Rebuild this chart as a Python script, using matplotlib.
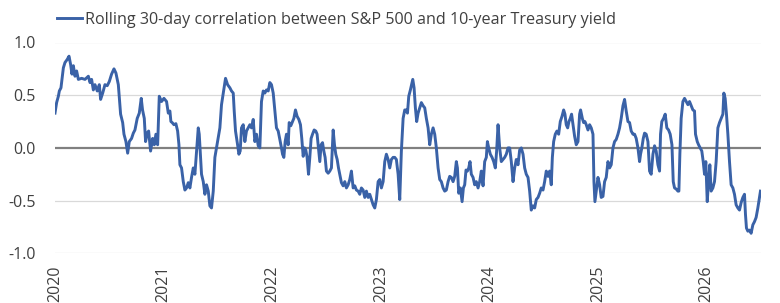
import numpy as np
import matplotlib
matplotlib.use("Agg")
import matplotlib.pyplot as plt

# ---- data: fractional year and rolling correlation ----
years_2020 = [
    2020.000, 2020.015, 2020.031, 2020.040, 2020.055, 2020.077, 2020.092, 2020.113, 2020.129, 2020.144,
    2020.156, 2020.169, 2020.184, 2020.199, 2020.215, 2020.245, 2020.276, 2020.307, 2020.322, 2020.337,
    2020.353, 2020.368, 2020.389, 2020.408, 2020.420, 2020.439, 2020.460, 2020.481, 2020.500, 2020.521,
    2020.543, 2020.561, 2020.583, 2020.604, 2020.623, 2020.635, 2020.653, 2020.669, 2020.684, 2020.705,
    2020.721, 2020.736, 2020.757, 2020.776, 2020.794, 2020.806, 2020.822, 2020.834, 2020.849, 2020.862,
    2020.880, 2020.899, 2020.914, 2020.929, 2020.945, 2020.960, 2020.981, 2021.003,
]
corr_2020 = [
    0.33, 0.43, 0.49, 0.54, 0.57, 0.76, 0.81, 0.84, 0.87, 0.79,
    0.70, 0.78, 0.68, 0.73, 0.65, 0.66, 0.65, 0.68, 0.62, 0.65,
    0.55, 0.60, 0.54, 0.60, 0.46, 0.52, 0.60, 0.59, 0.63, 0.70,
    0.75, 0.71, 0.60, 0.32, 0.24, 0.13, 0.06, -0.05, 0.06, 0.09,
    0.14, 0.17, 0.28, 0.33, 0.47, 0.36, 0.28, 0.06, 0.14, 0.16,
    -0.03, 0.09, 0.03, 0.13, 0.03, 0.49, 0.44, 0.47,
]

years_2021 = [
    2021.027, 2021.043, 2021.058, 2021.067, 2021.079, 2021.095, 2021.113, 2021.129, 2021.141, 2021.150,
    2021.165, 2021.181, 2021.196, 2021.211, 2021.227, 2021.242, 2021.257, 2021.273, 2021.288, 2021.303,
    2021.319, 2021.328, 2021.337, 2021.349, 2021.365, 2021.380, 2021.395, 2021.411, 2021.426, 2021.441,
    2021.457, 2021.472, 2021.487, 2021.503, 2021.518, 2021.533, 2021.549, 2021.564, 2021.570, 2021.589,
    2021.610, 2021.625, 2021.641, 2021.650, 2021.662, 2021.681, 2021.693, 2021.705, 2021.717, 2021.733,
    2021.748, 2021.763, 2021.779, 2021.794, 2021.809, 2021.825, 2021.840, 2021.855, 2021.871, 2021.886,
    2021.901, 2021.917, 2021.932, 2021.947, 2021.963, 2021.978, 2021.993, 2022.009, 2022.024, 2022.039,
    2022.055,
]
corr_2021 = [
    0.44, 0.33, 0.35, 0.25, 0.24, 0.22, 0.23, 0.16, 0.03, -0.16,
    -0.19, -0.32, -0.40, -0.38, -0.33, -0.38, -0.28, -0.19, -0.25, -0.03,
    0.19, 0.13, -0.03, -0.25, -0.32, -0.44, -0.35, -0.41, -0.55, -0.57,
    -0.41, -0.09, 0.00, 0.09, 0.19, 0.41, 0.52, 0.62, 0.66, 0.60,
    0.57, 0.54, 0.52, 0.35, 0.16, 0.03, -0.06, -0.03, 0.19, 0.22,
    0.06, 0.16, 0.19, 0.22, 0.19, 0.27, 0.06, 0.13, 0.02, 0.00,
    0.44, 0.54, 0.52, 0.55, 0.54, 0.62, 0.60, 0.52, 0.35, 0.19,
    0.16,
]

years_2022 = [
    2022.085, 2022.095, 2022.107, 2022.119, 2022.131, 2022.147, 2022.156, 2022.171, 2022.187, 2022.199,
    2022.214, 2022.229, 2022.245, 2022.260, 2022.272, 2022.285, 2022.297, 2022.309, 2022.321, 2022.334,
    2022.346, 2022.358, 2022.371, 2022.386, 2022.401, 2022.413, 2022.426, 2022.438, 2022.450, 2022.463,
    2022.475, 2022.487, 2022.499, 2022.515, 2022.530, 2022.545, 2022.561, 2022.573, 2022.585, 2022.598,
    2022.610, 2022.622, 2022.637, 2022.653, 2022.668, 2022.683, 2022.699, 2022.714, 2022.729, 2022.745,
    2022.760, 2022.775, 2022.791, 2022.806, 2022.821, 2022.837, 2022.852, 2022.867, 2022.883, 2022.898,
    2022.913, 2022.929, 2022.944, 2022.959, 2022.975, 2022.990, 2023.005, 2023.021, 2023.036, 2023.051,
    2023.067, 2023.082, 2023.097, 2023.113,
]
corr_2022 = [
    0.00, -0.06, -0.09, 0.06, 0.13, 0.03, 0.24, 0.21, 0.25, 0.28,
    0.36, 0.30, 0.27, 0.22, 0.09, -0.08, 0.00, -0.02, -0.09, -0.25,
    -0.09, 0.09, 0.13, 0.17, 0.16, 0.13, 0.00, -0.13, 0.03, 0.05,
    -0.03, -0.09, -0.22, -0.24, -0.22, -0.19, 0.17, 0.03, -0.06, -0.11,
    -0.19, -0.25, -0.33, -0.36, -0.32, -0.38, -0.35, -0.30, -0.22, -0.38,
    -0.36, -0.40, -0.41, -0.44, -0.38, -0.40, -0.47, -0.41, -0.47, -0.44,
    -0.49, -0.54, -0.57, -0.49, -0.32, -0.30, -0.38, -0.32, -0.13, -0.06,
    -0.11, -0.19, -0.11, -0.09,
]

years_2023 = [
    2023.128, 2023.143, 2023.159, 2023.174, 2023.189, 2023.205, 2023.220, 2023.235, 2023.245, 2023.257,
    2023.272, 2023.294, 2023.306, 2023.318, 2023.330, 2023.343, 2023.358, 2023.373, 2023.389, 2023.404,
    2023.419, 2023.435, 2023.450, 2023.465, 2023.481, 2023.496, 2023.511, 2023.527, 2023.542, 2023.557,
    2023.573, 2023.588, 2023.603, 2023.619, 2023.634, 2023.649, 2023.665, 2023.680, 2023.695, 2023.705,
    2023.717, 2023.732, 2023.748, 2023.760, 2023.772, 2023.784, 2023.797, 2023.809, 2023.821, 2023.833,
    2023.849, 2023.864, 2023.879, 2023.895, 2023.910, 2023.925, 2023.941, 2023.956, 2023.971, 2023.981,
    2023.993, 2024.008, 2024.024, 2024.039, 2024.054, 2024.066, 2024.079, 2024.094, 2024.109, 2024.125,
    2024.140, 2024.155, 2024.171,
]
corr_2023 = [
    -0.09, -0.11, -0.25, -0.49, -0.03, 0.28, 0.36, 0.36, 0.33, 0.49,
    0.55, 0.65, 0.57, 0.38, 0.25, 0.33, 0.38, 0.43, 0.40, 0.38,
    0.28, 0.19, 0.03, 0.13, 0.19, 0.13, 0.00, -0.19, -0.30, -0.32,
    -0.38, -0.41, -0.40, -0.32, -0.27, -0.28, -0.32, -0.27, -0.13, -0.19,
    -0.43, -0.38, -0.51, -0.38, -0.35, -0.21, -0.22, -0.19, -0.13, -0.25,
    -0.28, -0.35, -0.32, -0.38, -0.32, -0.22, -0.36, -0.13, -0.09, 0.06,
    0.00, -0.06, -0.09, -0.13, -0.19, -0.03, 0.22, 0.00, -0.13, -0.11,
    -0.09, -0.06, 0.00,
]

years_2024 = [
    2024.186, 2024.201, 2024.217, 2024.232, 2024.247, 2024.263, 2024.278, 2024.293, 2024.309, 2024.324,
    2024.339, 2024.355, 2024.370, 2024.385, 2024.401, 2024.416, 2024.431, 2024.447, 2024.462, 2024.477,
    2024.493, 2024.508, 2024.523, 2024.539, 2024.554, 2024.569, 2024.579, 2024.591, 2024.606, 2024.621,
    2024.637, 2024.652, 2024.668, 2024.683, 2024.695, 2024.707, 2024.720, 2024.732, 2024.744, 2024.756,
    2024.769, 2024.784, 2024.799, 2024.815, 2024.830, 2024.839, 2024.855, 2024.867, 2024.879, 2024.891,
    2024.907, 2024.922, 2024.937, 2024.953, 2024.962, 2024.971, 2024.983, 2024.999, 2025.014, 2025.029,
    2025.045, 2025.060, 2025.075, 2025.091, 2025.106, 2025.121, 2025.137, 2025.152, 2025.167, 2025.183,
    2025.198, 2025.213, 2025.229,
]
corr_2024 = [
    0.00, -0.13, -0.32, -0.19, -0.11, -0.16, -0.02, 0.00, -0.06, -0.19,
    -0.25, -0.28, -0.41, -0.59, -0.55, -0.57, -0.49, -0.47, -0.43, -0.38,
    -0.40, -0.32, -0.22, -0.27, -0.22, -0.35, -0.09, 0.06, 0.13, 0.16,
    0.13, 0.25, 0.30, 0.36, 0.32, 0.22, 0.19, 0.25, 0.28, 0.32,
    0.22, 0.11, 0.03, 0.06, 0.32, 0.36, 0.28, 0.24, 0.25, 0.22,
    0.17, 0.22, 0.19, 0.13, -0.32, -0.51, -0.41, -0.28, -0.35, -0.47,
    -0.46, -0.32, -0.28, -0.13, -0.19, -0.16, 0.00, 0.06, 0.08, 0.13,
    0.19, 0.28, 0.40,
]

years_2025 = [
    2025.244, 2025.259, 2025.275, 2025.290, 2025.305, 2025.321, 2025.336, 2025.351, 2025.367, 2025.382,
    2025.391, 2025.403, 2025.416, 2025.428, 2025.443, 2025.459, 2025.474, 2025.489, 2025.505, 2025.520,
    2025.535, 2025.551, 2025.566, 2025.575, 2025.587, 2025.603, 2025.618, 2025.633, 2025.649, 2025.664,
    2025.680, 2025.692, 2025.704, 2025.719, 2025.735, 2025.744, 2025.753, 2025.765, 2025.781, 2025.796,
    2025.811, 2025.827, 2025.842, 2025.857, 2025.873, 2025.888, 2025.897, 2025.913, 2025.925, 2025.940,
    2025.955, 2025.968, 2025.980, 2025.992, 2026.005, 2026.017, 2026.029, 2026.041, 2026.057, 2026.072,
    2026.087, 2026.103, 2026.118, 2026.133, 2026.149, 2026.158, 2026.170, 2026.182, 2026.195, 2026.210,
    2026.225, 2026.241, 2026.256, 2026.271, 2026.287, 2026.302, 2026.317, 2026.333, 2026.348, 2026.357,
    2026.366, 2026.379, 2026.394, 2026.409, 2026.425, 2026.440, 2026.455, 2026.471, 2026.486, 2026.495,
]
corr_2025 = [
    0.46, 0.35, 0.25, 0.24, 0.16, 0.13, 0.13, 0.09, 0.00, -0.13,
    -0.06, 0.00, 0.09, 0.14, 0.13, 0.06, -0.22, -0.25, -0.06, 0.02,
    -0.03, -0.16, -0.22, 0.13, 0.25, 0.28, 0.32, 0.19, 0.17, 0.13,
    0.03, -0.32, -0.38, -0.39, -0.41, -0.41, -0.06, 0.28, 0.44, 0.47,
    0.44, 0.41, 0.44, 0.40, 0.36, 0.35, 0.13, 0.06, 0.03, 0.00,
    -0.03, -0.13, -0.25, -0.13, -0.51, -0.32, -0.16, -0.41, -0.38, -0.32,
    -0.13, 0.19, 0.24, 0.28, 0.32, 0.52, 0.47, 0.32, 0.13, -0.13,
    -0.35, -0.38, -0.44, -0.54, -0.57, -0.59, -0.52, -0.47, -0.44, -0.63,
    -0.76, -0.79, -0.78, -0.81, -0.73, -0.70, -0.66, -0.57, -0.47, -0.41,
]

year_ticks = [2020, 2021, 2022, 2023, 2024, 2025, 2026]
y_ticks = [-1.0, -0.5, 0.0, 0.5, 1.0]
y_tick_labels = ["-1.0", "-0.5", "0.0", "0.5", "1.0"]
series_label = "Rolling 30-day correlation between S&P 500 and 10-year Treasury yield"

x = np.array(years_2020 + years_2021 + years_2022 + years_2023 + years_2024 + years_2025)
y = np.array(corr_2020 + corr_2021 + corr_2022 + corr_2023 + corr_2024 + corr_2025)

BLUE = "#3a62a7"
TEXT = "#404040"

plt.rcParams["font.family"] = ["Open Sans", "DejaVu Sans"]

fig = plt.figure(figsize=(7.8, 3.03), dpi=100)
ax = fig.add_axes([55 / 780, 1 - 253.3 / 303, (761 - 55) / 780, (253.3 - 42.5) / 303])

for v in y_ticks:
    if v == 0:
        continue
    ax.axhline(v, color="#d9d9d9", lw=0.9, zorder=1)
ax.axhline(0, color="#808080", lw=1.6, zorder=2)

line, = ax.plot(x, y, color=BLUE, lw=2.1, zorder=3, solid_joinstyle="round",
                label=series_label)

ax.set_xlim(2020, 2026.5)
ax.set_ylim(-1.0, 1.0)
ax.set_yticks(y_ticks)
ax.set_yticklabels(y_tick_labels)
ax.set_xticks(year_ticks)
ax.set_xticklabels([str(t) for t in year_ticks], rotation=90)
ax.tick_params(axis="both", length=0, colors=TEXT, labelsize=11.5)
ax.tick_params(axis="y", pad=14)
ax.tick_params(axis="x", pad=9)
for s in ax.spines.values():
    s.set_visible(False)

leg = fig.legend(handles=[line], loc="center left",
                 bbox_to_anchor=(57 / 780, 1 - 20 / 303),
                 frameon=False, fontsize=11.6, handlelength=1.55,
                 handletextpad=0.2, borderaxespad=0, borderpad=0)
for t in leg.get_texts():
    t.set_color(TEXT)
for h in leg.legend_handles:
    h.set_linewidth(2.1)

fig.savefig("out.png", dpi=100)
